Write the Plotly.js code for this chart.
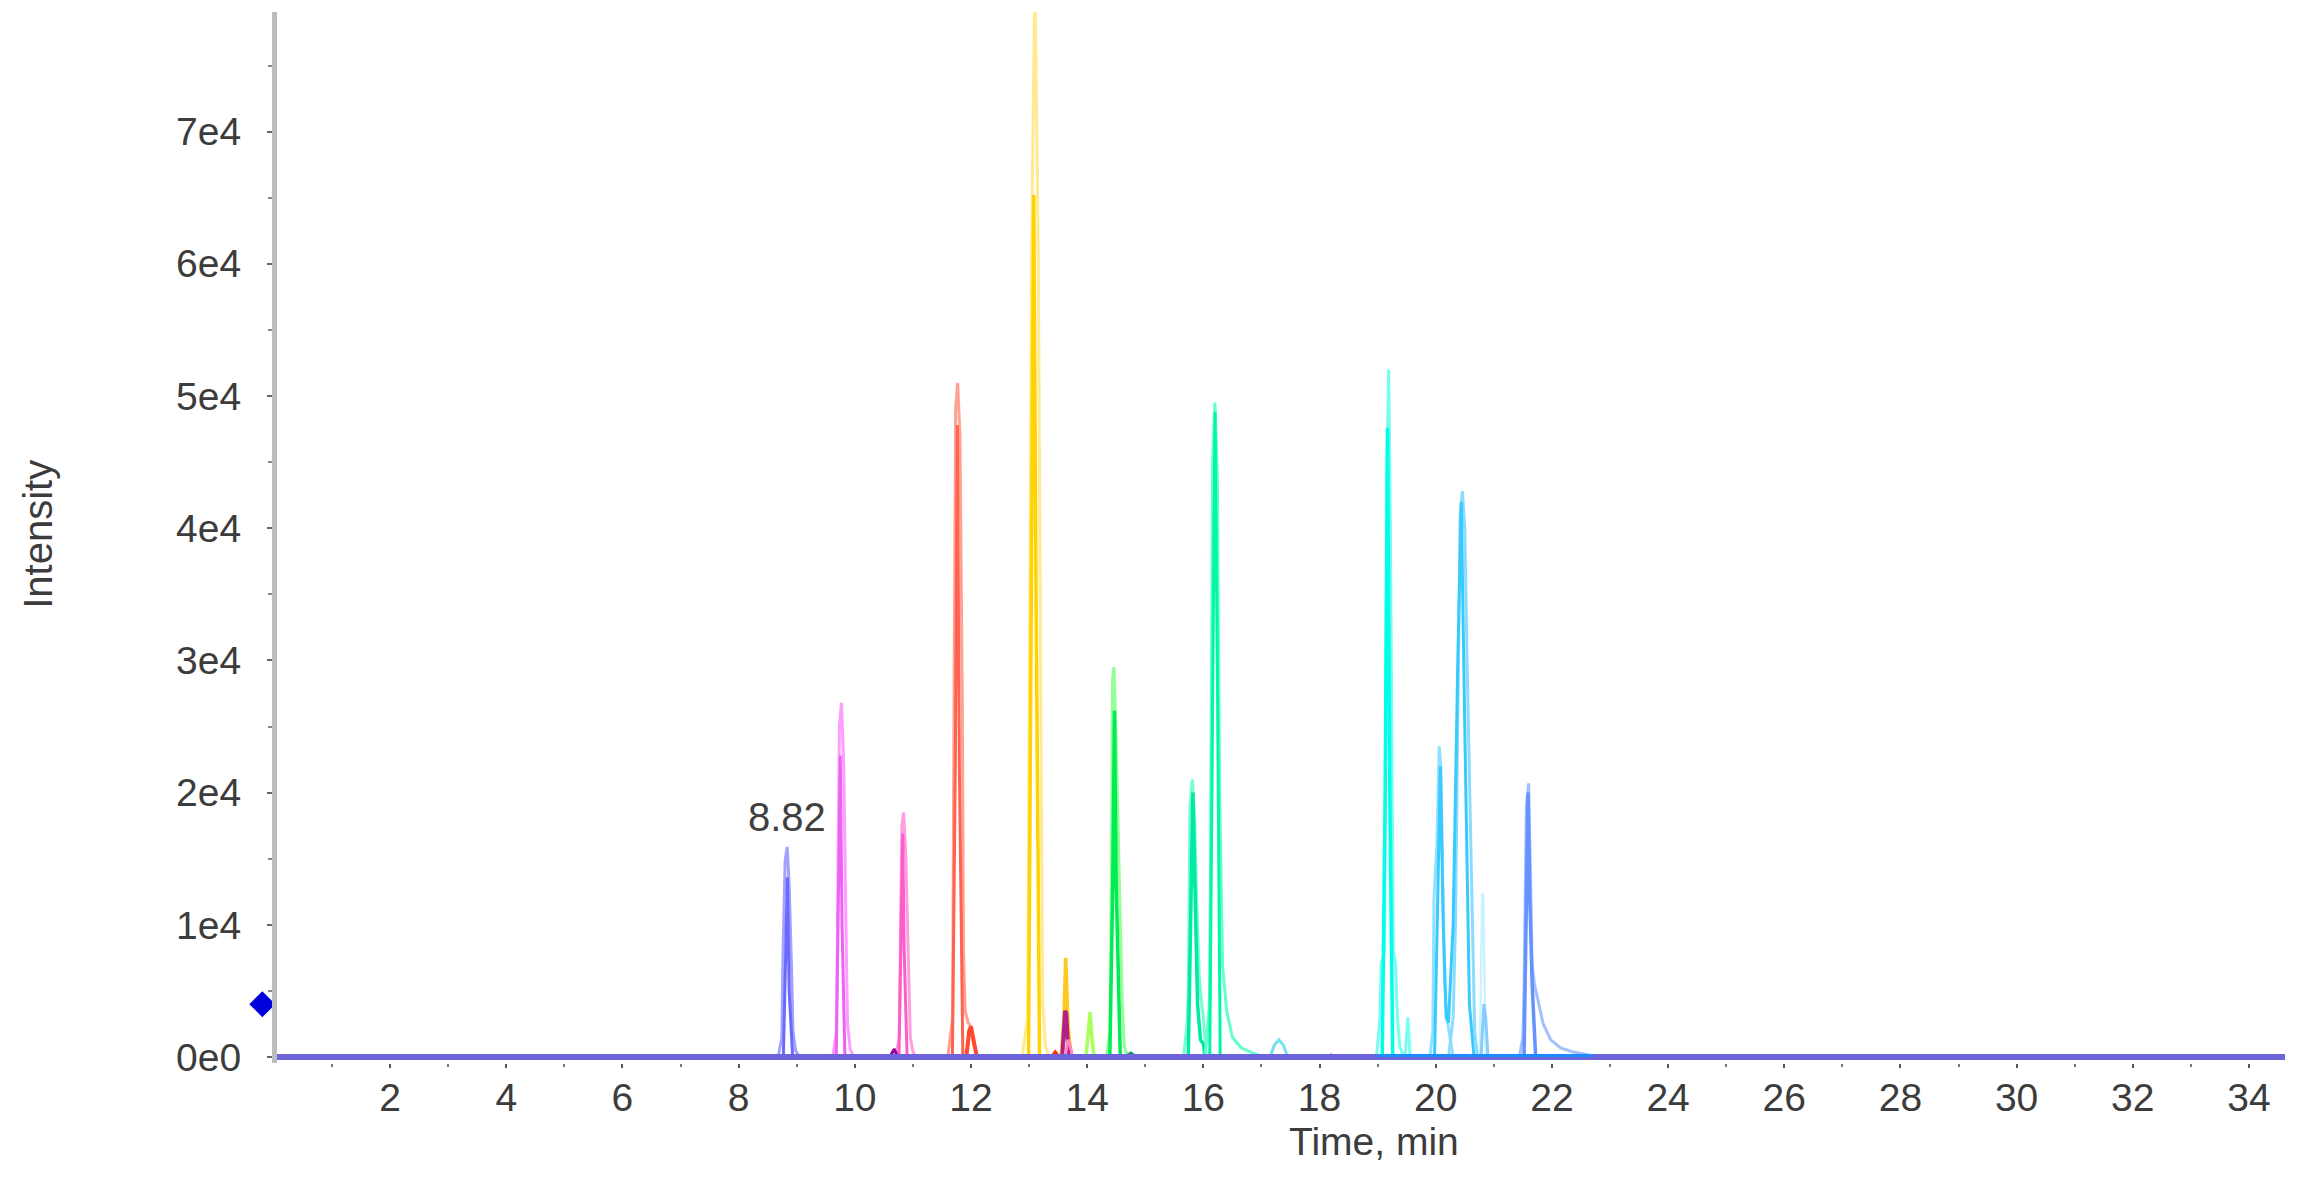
<!DOCTYPE html>
<html>
<head>
<meta charset="utf-8">
<script src="https://cdn.plot.ly/plotly-3.0.1.min.js"></script>
<style>html,body{margin:0;padding:0;background:#fff;}#chart{width:2299px;height:1180px;}</style>
</head>
<body>
<div id="chart"></div>
<script>
// ---- tick labels ----
const xTickVals = [2,4,6,8,10,12,14,16,18,20,22,24,26,28,30,32,34];
const xTickText = ["2","4","6","8","10","12","14","16","18","20","22","24","26","28","30","32","34"];
const yTickVals = [0,10000,20000,30000,40000,50000,60000,70000];
const yTickText = ["0e0","1e4","2e4","3e4","4e4","5e4","6e4","7e4"];

// ---- baseline (all XICs at zero) ----
const tBase = [0, 34.62];
const vBase = [0, 0];
const tBaseBlue = [19.0, 22.7];
const vBaseBlue = [120, 120];

// ---- peak 8.82 (blue) ----
const tBlueL = [8.68, 8.745, 8.76, 8.80, 8.835, 8.87, 8.915, 8.935, 8.98, 9.05];
const vBlueL = [0, 1500, 7000, 14800, 15900, 13000, 6000, 2000, 500, 0];
const tBlueD = [8.77, 8.81, 8.84, 8.87, 8.93];
const vBlueD = [0, 9000, 13600, 5000, 0];

// ---- peak 9.75 (magenta) ----
const tMagL = [9.62, 9.685, 9.70, 9.735, 9.77, 9.81, 9.85, 9.875, 9.92, 9.98];
const vMagL = [0, 2000, 9000, 25000, 26800, 22000, 9000, 2500, 600, 0];
const tMagD = [9.68, 9.72, 9.75, 9.78, 9.83];
const vMagD = [0, 12000, 22800, 10000, 0];

// ---- peak 10.8 (pink) ----
const tPinkL = [10.70, 10.765, 10.78, 10.81, 10.84, 10.88, 10.93, 10.955, 11.0, 11.05];
const vPinkL = [0, 1500, 7000, 17500, 18500, 15000, 6000, 1500, 400, 0];
const tPinkD = [10.76, 10.80, 10.825, 10.85, 10.90];
const vPinkD = [0, 9000, 16900, 8000, 0];
const tPurpA = [10.60, 10.68, 10.74];
const vPurpA = [0, 600, 0];

// ---- peak 11.75 (red) ----
const tRedL = [11.60, 11.685, 11.70, 11.735, 11.77, 11.81, 11.85, 11.87, 11.90, 11.95, 12.00, 12.05, 12.12];
const vRedL = [0, 3000, 20000, 49000, 51000, 47000, 27000, 8000, 3500, 2600, 2300, 900, 0];
const tRedD = [11.68, 11.73, 11.765, 11.80, 11.86];
const vRedD = [0, 22000, 47800, 22000, 0];
const tRedS = [11.92, 11.97, 12.00, 12.04, 12.10];
const vRedS = [0, 2000, 2300, 1200, 0];

// ---- peak 13.1 (yellow) ----
const tYelL = [12.88, 12.975, 12.99, 13.04, 13.10, 13.16, 13.21, 13.235, 13.28, 13.35];
const vYelL = [0, 3000, 15000, 60000, 82000, 60000, 20000, 4000, 800, 0];
const tYelD = [12.99, 13.04, 13.08, 13.12, 13.18];
const vYelD = [0, 35000, 65200, 35000, 0];

// ---- small peaks 13.4 - 14.1 ----
const tGoldS = [13.55, 13.60, 13.63, 13.67, 13.72];
const vGoldS = [0, 3000, 7500, 2500, 0];
const tPurpS = [13.57, 13.62, 13.64, 13.68];
const vPurpS = [0, 3500, 3300, 0];
const tPinkS = [13.62, 13.67, 13.70, 13.75];
const vPinkS = [0, 1300, 1000, 0];
const tRedT = [13.38, 13.45, 13.52];
const vRedT = [0, 400, 0];
const tLimeS = [13.98, 14.03, 14.05, 14.08, 14.12];
const vLimeS = [0, 3000, 3400, 1500, 0];

// ---- peak 14.45 (green) ----
const tGrnL = [14.33, 14.395, 14.41, 14.435, 14.46, 14.50, 14.56, 14.605, 14.64, 14.70];
const vGrnL = [0, 2000, 9000, 28500, 29500, 24000, 12000, 4000, 800, 0];
const tGrnD = [14.39, 14.44, 14.47, 14.50, 14.57];
const vGrnD = [0, 13000, 26200, 13000, 0];
const tGrnT = [14.65, 14.75, 14.85];
const vGrnT = [0, 300, 0];

// ---- peak 15.85 (teal) ----
const tTealL = [15.66, 15.72, 15.74, 15.77, 15.81, 15.85, 15.89, 15.93, 15.97, 16.00, 16.05];
const vTealL = [0, 2500, 5000, 19000, 21000, 18000, 11000, 6000, 4000, 3000, 0];
const tTealD = [15.74, 15.79, 15.82, 15.85, 15.90, 15.95, 16.00, 16.03];
const vTealD = [0, 13000, 20000, 14000, 4000, 1300, 1000, 0];

// ---- peak 16.2 (sea green) ----
const tSeaL = [16.03, 16.105, 16.12, 16.16, 16.20, 16.24, 16.28, 16.30, 16.33, 16.40, 16.50, 16.65, 16.85, 17.05];
const vSeaL = [0, 4000, 12000, 45000, 49500, 44000, 20000, 13000, 7000, 3500, 1500, 700, 300, 0];
const tSeaD = [16.11, 16.16, 16.20, 16.24, 16.29];
const vSeaD = [0, 30000, 48800, 30000, 0];

// ---- small bumps 17.3 / 18.2 ----
const tBump = [17.15, 17.22, 17.30, 17.38, 17.45];
const vBump = [0, 900, 1300, 900, 0];
const tVio = [18.10, 18.20, 18.30];
const vVio = [0, 150, 0];

// ---- peak 19.15 (cyan) ----
const tCyL = [18.98, 19.04, 19.06, 19.12, 19.16, 19.19, 19.22, 19.27, 19.31, 19.34, 19.38, 19.45];
const vCyL = [0, 3000, 7000, 8000, 45000, 52000, 40000, 8000, 7000, 3000, 800, 0];
const tCyD = [19.08, 19.13, 19.17, 19.21, 19.26];
const vCyD = [0, 20000, 47600, 20000, 0];
const tCyS = [19.47, 19.52, 19.56];
const vCyS = [0, 3000, 0];

// ---- peaks 20.1 / 20.45 (sky blue) ----
const tSkyAL = [19.90, 19.95, 19.97, 20.02, 20.06, 20.09, 20.12, 20.15, 20.19, 20.24, 20.30];
const vSkyAL = [0, 2000, 12000, 16000, 23500, 22000, 14000, 6000, 3000, 1500, 0];
const tSkyBL = [20.22, 20.30, 20.34, 20.38, 20.42, 20.46, 20.50, 20.54, 20.58, 20.63, 20.67, 20.72];
const vSkyBL = [0, 3000, 10000, 28000, 41000, 42800, 40000, 30000, 22000, 10000, 2000, 0];
const tSkyD = [19.98, 20.03, 20.08, 20.13, 20.18, 20.22, 20.30, 20.38, 20.44, 20.50, 20.58, 20.66];
const vSkyD = [0, 12000, 22000, 10000, 3000, 2600, 10000, 30000, 42000, 25000, 4000, 0];
const tThinA = [20.76, 20.80, 20.82, 20.86];
const vThinA = [0, 12400, 12000, 0];
const tThinB = [20.78, 20.83, 20.86, 20.90];
const vThinB = [0, 4000, 3000, 0];

// ---- peak 21.6 (blue) ----
const tBlu2L = [21.44, 21.50, 21.52, 21.56, 21.60, 21.63, 21.66, 21.70, 21.76, 21.85, 21.98, 22.15, 22.35, 22.60, 22.75];
const vBlu2L = [0, 1500, 5000, 19000, 20700, 15000, 7000, 5500, 4300, 2500, 1300, 700, 400, 200, 0];
const tBlu2D = [21.52, 21.56, 21.59, 21.62, 21.66, 21.72];
const vBlu2D = [0, 10000, 20000, 12000, 5500, 0];

// ---- marker and label ----
const markX = [-0.2];
const markY = [4000];
const peakLabel = "8.82";
const peakLabelX = 8.84;
const peakLabelY = 18150;

function ln(t, v, color, width) {
  return {x: t, y: v, type: 'scatter', mode: 'lines', hoverinfo: 'skip',
          line: {color: color, width: width, shape: 'linear'}, showlegend: false};
}

const traces = [
  ln(tBlueL, vBlueL, '#a3a3ff', 3), ln(tBlueD, vBlueD, '#6a6aff', 3),
  ln(tMagL, vMagL, '#ff9cff', 3), ln(tMagD, vMagD, '#ec62f4', 3),
  ln(tPinkL, vPinkL, '#ff9ede', 3), ln(tPinkD, vPinkD, '#ff5ccb', 3),
  ln(tPurpA, vPurpA, '#990099', 3),
  ln(tRedL, vRedL, '#ffa292', 3), ln(tRedD, vRedD, '#ff6350', 3), ln(tRedS, vRedS, '#ff4a30', 4),
  ln(tYelL, vYelL, '#ffea92', 3), ln(tYelD, vYelD, '#ffd300', 3.5),
  ln(tRedT, vRedT, '#ff3300', 3),
  ln(tGoldS, vGoldS, '#ffc81e', 3.5), ln(tPurpS, vPurpS, '#b0208c', 4), ln(tPinkS, vPinkS, '#ff88bb', 3),
  ln(tLimeS, vLimeS, '#aaff5a', 3.5),
  ln(tGrnL, vGrnL, '#94ff94', 3), ln(tGrnD, vGrnD, '#00ec55', 3.5), ln(tGrnT, vGrnT, '#009977', 3),
  ln(tTealL, vTealL, '#74ffd2', 3), ln(tTealD, vTealD, '#00eaa4', 3.5),
  ln(tSeaL, vSeaL, '#62ffcf', 3), ln(tSeaD, vSeaD, '#00f7a6', 3),
  ln(tBump, vBump, '#6fe2f0', 3), ln(tVio, vVio, '#8800cc', 3),
  ln(tCyL, vCyL, '#76fff1', 3), ln(tCyD, vCyD, '#00ffe8', 3.5), ln(tCyS, vCyS, '#76fff1', 3),
  ln(tSkyAL, vSkyAL, '#92e0ff', 3), ln(tSkyBL, vSkyBL, '#8adcff', 3), ln(tSkyD, vSkyD, '#38caff', 3),
  ln(tThinA, vThinA, '#cdf2ff', 2.5), ln(tThinB, vThinB, '#88ccff', 3),
  ln(tBlu2L, vBlu2L, '#a2c0ff', 3), ln(tBlu2D, vBlu2D, '#6592ff', 3.5),
  ln(tBase, vBase, '#6c64d8', 6),
  ln(tBaseBlue, vBaseBlue, '#1a8cff', 3),
  {x: markX, y: markY, type: 'scatter', mode: 'markers', cliponaxis: false, hoverinfo: 'skip',
   marker: {symbol: 'diamond', size: 20, color: '#0000dd'}, showlegend: false}
];

const tickFont = {family: 'Liberation Sans, Arial, sans-serif', size: 39, color: '#3c3c3c'};

// plot area: left edge at 250 px, x = 0 at 273.9 px, 58.06 px per minute
const xMin = -0.4117;
const xMax = 34.62;
const yAxisPos = 0.01174;

const layout = {
  width: 2299, height: 1180,
  margin: {l: 250, r: 14, t: 12, b: 117, pad: 0},
  paper_bgcolor: '#ffffff', plot_bgcolor: '#ffffff',
  showlegend: false,
  xaxis: {
    range: [xMin, xMax], showgrid: false, zeroline: false, showline: false,
    tickmode: 'array', tickvals: xTickVals, ticktext: xTickText,
    ticks: 'outside', ticklen: 4, tickwidth: 2, tickcolor: '#555555',
    ticklabelstandoff: -4,
    minor: {tickmode: 'linear', tick0: 1, dtick: 2, ticks: 'outside', ticklen: 3, tickwidth: 2, tickcolor: '#777777'},
    tickfont: tickFont
  },
  yaxis: {
    range: [-450, 79050], showgrid: false, zeroline: false,
    anchor: 'free', position: yAxisPos,
    showline: true, linecolor: '#bdbdbd', linewidth: 5,
    tickmode: 'array', tickvals: yTickVals, ticktext: yTickText,
    ticks: 'outside', ticklen: 5, tickwidth: 2, tickcolor: '#666666',
    ticklabelstandoff: 18,
    minor: {tickmode: 'linear', tick0: 5000, dtick: 10000, ticks: 'outside', ticklen: 4, tickwidth: 2, tickcolor: '#888888'},
    tickfont: tickFont
  },
  annotations: [
    {text: peakLabel, x: peakLabelX, y: peakLabelY, xref: 'x', yref: 'y', showarrow: false,
     xanchor: 'center', yanchor: 'middle', font: {family: 'Liberation Sans, Arial, sans-serif', size: 40, color: '#404040'}},
    {text: 'Time, min', x: 0.5523, y: -0.0745, xref: 'paper', yref: 'paper', showarrow: false,
     xanchor: 'center', yanchor: 'middle', font: {family: 'Liberation Sans, Arial, sans-serif', size: 39, color: '#3c3c3c'}},
    {text: 'Intensity', x: -0.1042, y: 0.5035, xref: 'paper', yref: 'paper', showarrow: false, textangle: -90,
     xanchor: 'center', yanchor: 'middle', font: {family: 'Liberation Sans, Arial, sans-serif', size: 40, color: '#3c3c3c'}}
  ]
};

Plotly.newPlot('chart', traces, layout, {staticPlot: true, displayModeBar: false});
</script>
</body>
</html>
